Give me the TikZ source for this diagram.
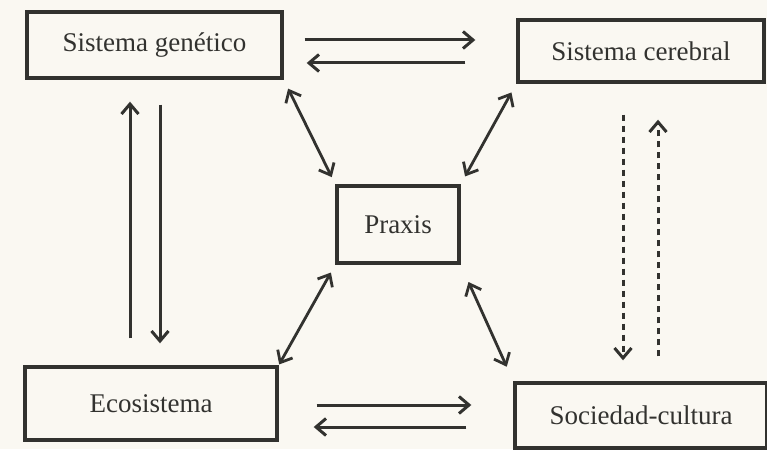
\documentclass[tikz,border=0pt]{standalone}
\usepackage{fontspec}
\setmainfont{Liberation Serif}
\usetikzlibrary{arrows.meta,calc}
\definecolor{ink}{RGB}{50,50,47}
\definecolor{paper}{RGB}{250,248,242}
\tikzset{
  box/.style={draw=ink, line width=3.4pt, text=ink, font=\fontsize{27}{30}\selectfont, inner sep=0pt},
  arr/.style={draw=ink, line width=3pt, -{Straight Barb[length=10pt,width=17pt,line width=3pt]}},
  dbl/.style={draw=ink, line width=2.8pt, {Straight Barb[length=10pt,width=17pt,line width=2.8pt]}-{Straight Barb[length=10pt,width=17pt,line width=2.8pt]}},
  dsh/.style={arr, dash pattern=on 6pt off 5pt}
}
\begin{document}
\begin{tikzpicture}[x=1pt,y=-1pt]
\fill[paper] (0,0) rectangle (767,449);
\useasboundingbox (0,0) rectangle (767,449);
\node[box, minimum width=255pt, minimum height=66pt] (gen) at (154.5,45) {Sistema genético};
\node[box, minimum width=246pt, minimum height=62pt] (cer) at (641,51) {Sistema cerebral};
\node[box, minimum width=122pt, minimum height=77pt] (prax) at (398,224.5) {Praxis};
\node[box, minimum width=252pt, minimum height=73pt] (eco) at (151,403.5) {Ecosistema};
\node[box, minimum width=252pt, minimum height=65pt] (soc) at (641,415.5) {Sociedad-cultura};
% top pair
\draw[arr] ($(gen.east)+(21,-5)$) -- ($(cer.west)+(-41,-11)$);
\draw[arr] ($(cer.west)+(-51,12)$) -- ($(gen.east)+(23,18)$);
% bottom pair
\draw[arr] ($(eco.east)+(38,1.5)$) -- ($(soc.west)+(-42,-10.5)$);
\draw[arr] ($(soc.west)+(-47,11.5)$) -- ($(eco.east)+(35,23.5)$);
% left verticals
\draw[arr] ($(eco.north)+(-21,-27)$) -- ($(gen.south)+(-24.5,22)$);
\draw[arr] ($(gen.south)+(5.5,25)$) -- ($(eco.north)+(9,-22)$);
% right dashed verticals
\draw[dsh] ($(cer.south)+(-18,31)$) -- ($(soc.north)+(-18,-21)$);
\draw[dsh] ($(soc.north)+(17,-25)$) -- ($(cer.south)+(17,36)$);
% diagonals
\draw[dbl, shorten <=10pt, shorten >=8pt] (gen.south east) -- (prax.north west);
\draw[dbl, shorten <=10pt, shorten >=9pt] (cer.south west) -- (prax.north east);
\draw[dbl, shorten <=9pt, shorten >=1pt] (prax.south west) -- (eco.north east);
\draw[dbl, shorten <=19pt, shorten >=16pt] (prax.south east) -- (soc.north west);
\end{tikzpicture}
\end{document}
